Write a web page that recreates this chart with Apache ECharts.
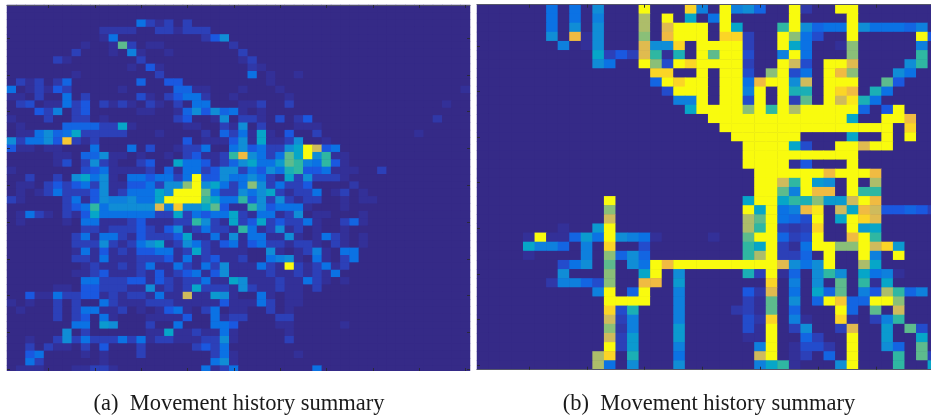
<!DOCTYPE html>
<html><head><meta charset="utf-8">
<style>html,body{margin:0;padding:0;background:#fff;overflow:hidden}#c{width:931px;height:416px;filter:blur(.45px)}</style>
<script src="https://cdn.jsdelivr.net/npm/echarts@6/dist/echarts.min.js"></script>
</head><body><div id="c"></div>
<script>
// Each row lists column,level pairs; unlisted cells are level 0. Levels read by eye on a 0-12 parula scale.
const rowsA = [
[],
[],
[14,4,15,2,16,1,17,2,19,2],
[10,1.5,11,1.5,12,1.5,13,1.5,16,2,17,2,18,1,19,2,20,2,21,2],
[10,1,11,4,21,1.5,22,3,23,5],
[8,1,11,1,12,7.5,13,2,15,1,16,1,24,1.5],
[7,2,11,1,13,4.5,14,1,17,1,25,2],
[5,2,6,1,14,2,25,1,26,2],
[13,1,15,3,16,1,26,1.5,27,1],
[7,1,16,2,26,4,28,1,31,1],
[1,2,2,1,3,2,5,1.5,6,3.5,14,3.5,17,3,18,3,28,1],
[0,4,2,1,3,2,4,1,5,3,6,2,12,1,18,3.5,19,3.5,20,1,21,1,25,1,29,1,49,1],
[0,1,1,1,3,2,6,4,8,2,14,2.5,15,1,17,2,18,3,19,4,20,4,21,1.5,24,1,30,1],
[1,2,2,2.5,4,1,5,1,6,4,7,2,8,3,10,2,11,1,12,2,13,1,15,2,16,1,18,2,20,4,21,4,25,1,26,1,27,2,30,2,47,1],
[3,3,4,2,5,4.5,7,2,8,3,14,1,15,1,18,1,19,3.5,20,5,21,3,22,5,23,3.5,24,4,25,1,27,1],
[0,1,4,2,7,2,8,2,10,1,18,2,19,3,22,1,23,5,25,2,26,2,27,1,29,2.5,31,1.5,32,3,46,1.5],
[1,1,6,3.5,7,3.5,8,3.5,9,3.5,10,2,11,2,12,6,13,1,19,1,20,1,23,2,24,1,25,5,27,2,31,1,32,1,33,1],
[1,1,2,1,3,4,4,5,5,3.5,6,4,7,6,8,2,9,2,10,2,11,2,12,2,16,1,21,1.5,23,3.5,24,2,25,4,26,1,27,6,28,1,30,3,33,2,44,1],
[0,5,1,2,2,4,3,4,4,5,5,3,6,10.5,7,2,8,1,9,2,19,3,21,1,22,1,23,1,24,3,25,5,26,1,27,6,28,1,29,1,30,2,31,5,34,1],
[0,3,1,1,2,1,4,1,5,1,9,4,13,4,15,2.5,18,1,19,2,20,2,21,4,24,4,25,5,26,3,27,4,28,2,29,2,30,5,31,6,32,12,33,9,34,3,35,4],
[5,1,6,1,8,3.5,9,3.5,10,5,11,1,12,1,14,1,17,1,19,2,20,3,21,1,22,1,23,2,24,7,25,10,26,5,27,4,28,2,29,4,30,7.5,31,6,32,12,33,5,34,7,35,1,36,1],
[5,1,6,2.5,8,2,9,5,10,2,11,1,14,2,15,3,18,6,19,4,20,4,21,3,22,1,23,2,24,3.5,25,5,26,6,27,4,28,4,29,5.5,30,7.5,31,7,32,4.5,33,4,34,7,35,3,36,1],
[0,1,8,2.5,9,3,10,4,11,1,12,1,13,1,14,1,15,2,17,3.5,18,1,19,4,20,4,21,2,22,3,23,5,24,5,25,2,26,4,27,3,28,5,29,4,30,6.5,31,7,32,3,33,3,34,4,35,1,36,1,37,1,40,2],
[2,2,5,2,7,5,8,6,9,4,10,5,11,1,13,4,14,4,15,3,16,4,17,4,18,2,19,4,20,12,21,3,22,3,23,5,24,4,25,4,26,5,27,4,28,2,29,1,30,6,31,2,32,5,33,2,34,2,35,2,36,1],
[1,1,2,1,4,2,5,3,6,2,7,3,8,4,9,2,10,5,11,1,12,1,13,3,14,3,15,4,16,2,17,5,18,5,19,8,20,12,21,5,22,6,23,4,24,2,25,4,26,8,27,5,28,2,29,4,30,2,31,2,32,3,37,1.5],
[1,1,3,1,4,2,5,4,6,2,7,2,8,2,9,3,10,5,11,1,12,2,13,4,14,4,15,4,16,6,17,5,18,12,19,12,20,12,21,7.5,22,4,23,2,24,2,25,5,26,4,27,5,28,6,29,2,30,1,31,2,32,2,33,4,35,1,36,2,38,1],
[0,2,1,1,6,2,7,4,8,1,9,3,10,5,11,4.5,12,4.5,13,5,14,4,15,4,16,6,17,12,18,12,19,12,20,12,21,7,22,6,23,4,24,4,25,7,26,3,27,5,28,2,29,5,30,2,31,1,32,2,33,2,36,1,38,1,39,1],
[6,2,7,3,8,4,9,7,10,4,11,5,12,5,13,5,14,5,15,5,16,9.5,17,4.5,18,10.5,19,5,20,5,21,6,22,7.5,23,3,24,1,25,1,26,7,27,5,28,3,29,4,30,4,31,4,32,1,36,1],
[1,1,2,4,3,2,4,1,6,2,7,1,8,3,9,6,10,4,11,4,12,4,13,4,14,4,15,4,16,2,17,2,18,6,19,2,20,4,21,3,22,4,23,4,24,6,25,2,26,1,27,4,28,4,29,1,30,2,31,5,33,1,34,1,38,1],
[1,1,6,1,8,4,9,4,10,1,11,1,12,1,13,2,14,3,15,1,16,1,17,1,18,2,19,2,20,7,21,5,22,2,23,1,24,6,25,2,26,3,27,6,28,2,29,3,30,2,31,2,32,4,33,1,36,2,37,3.5,38,1],
[8,2,9,2,10,1,11,2,12,2,13,2,14,3,15,2,16,1,17,3,18,5,19,1,20,2,21,4,22,2,23,2,24,1,25,7,26,4,27,1,28,2,29,5,30,1,31,2,33,1,36,1],
[7,2,8,4,9,1,10,4,11,4,12,2,13,1,14,3,15,2,16,2,17,2,18,3,19,6,20,1,21,1,22,4,23,1,24,5,25,1,26,4,27,4,28,1,29,1,30,5,31,1,33,1,34,4,35,2,36,1,38,1],
[7,2,8,2,9,2,10,5,11,2,12,1,13,2,14,4,15,5,16,6,17,1,18,2,19,5,20,4,21,2,22,1,23,3,24,4,25,1,26,3,27,4,28,2,29,2,30,1,31,2,32,2,33,1,35,2,36,1,38,1],
[7,1,8,4,9,1,10,3,11,1,12,2,13,1,14,3,15,3,16,4,17,4,18,1,19,2,20,6,21,2,22,1,23,1,24,1,25,1,28,5,29,1,31,1,32,2,33,4.5,34,1,36,4,37,4],
[7,2,8,2,9,1,10,4,11,1,12,1,13,1,14,2,15,2,16,2,17,3,18,1,19,4,20,1,21,2,22,3,23,1,24,1,25,2,28,4,29,4.5,30,5,31,1,33,4,34,1,36,2,37,4],
[8,1,9,2,10,1,11,1,12,2,13,1,14,2,15,4,16,1,17,1,18,4,19,2,20,1,21,4,22,2,23,5,24,1,25,1,26,1,27,4,28,2,29,1,30,12,31,2,32,1,33,2,34,4,35,1,36,2],
[7,1,8,1,9,2,10,3,11,1,12,1,13,1,14,2,15,1,16,3,17,1,18,2,19,3,20,4,21,1,22,3,23,5,24,1,25,1,26,1,27,1,28,2,29,1,30,1,31,2,32,1,33,2,34,1,35,4],
[8,4,9,4,10,2,11,2,12,2,13,3,14,3,15,1,16,3,17,2,18,1,19,2,20,2,21,4,22,1,23,1,24,6,25,5,26,1,27,1,28,1,29,2,30,1,31,1,32,4,33,2,34,1,36,1],
[5,1,6,1,8,3,9,3,10,2,11,2,12,2,13,1,14,1,15,5,16,1,17,2,18,1,19,2,20,6,21,2,22,2,23,2,24,1,25,5,26,2,27,1,28,1,29,2,30,1,31,1,33,2],
[2,3,3,1,4,1,5,4,6,2,7,2,8,3,9,3,10,1,11,2,12,1,13,2,14,2,15,1,16,4,17,1,18,1,19,9,20,1,21,1,22,5.5,23,5,24,1,27,4,28,1,30,1,31,1],
[0,1,2,1,5,2,7,2,10,4,11,2,12,1,13,1,14,1,15,2,16,2,17,2,18,1,19,1,20,1,21,1,22,1,23,3,24,1,25,1,26,1,27,4,28,2,30,1,31,1],
[1,1,5,2,7,2,8,4,9,4,10,1,11,1,12,2,14,1,16,1,17,3,18,4,19,1,21,2,22,4,24,1,25,1,28,2,30,1],
[5,2,7,2,8,3,10,4,11,1,15,1,16,1,17,1,18,1,19,3,22,4,23,1,24,2,25,2,29,2,30,2],
[7,4,8,4,10,5.5,11,5,15,2,18,4,22,4,23,4,24,3,29,1,30,1,36,1],
[6,5,8,2,15,1,16,1,17,6,18,1,19,1,20,2,21,1,22,1,23,4,24,1,30,1],
[2,1,5,2,6,5,7,2,8,4,9,2,10,2,11,2,12,4,13,2,14,4,15,1,16,2,17,2,18,1,19,1,20,1,21,2,22,2,23,5,24,1,30,2],
[2,2,4,2,5,1,6,1,8,2,10,3,14,2,20,2,21,3,22,2,23,4],
[2,3,3,4,8,1,10,1,14,2,22,2,23,4,24,1,31,1],
[2,4,3,2,10,1,22,4,23,5,24,1],
[1,1,2,1,3,1,7,1,8,1,9,2,10,2,11,1,21,4,22,1,23,2,24,4,33,4]
];
const rowsB = [
[6,4,8,4,10,5,14,12,18,11,19,4.5,21,12,22,4.5,23,5,24,3.5,27,12,28,1.5,31,12,32,12],
[6,4,8,4,10,4.5,14,8.5,16,12,18,6,20,4,21,12,27,12,32,12],
[6,4,8,5,10,5,14,8.5,16,9.5,17,12,18,12,19,12,21,12,22,6,26,7,27,12,28,5,29,3.5,30,4,31,4,32,12,33,5,34,4,35,4,36,4,37,3.5,38,4.5],
[6,5,8,10,9,1,10,5,14,8,16,10,17,12,18,12,19,12,21,11,22,11,23,2,26,12,27,8,28,4,29,2.5,32,12,38,12,39,3],
[7,4.5,9,1,10,5,14,9.5,15,5,16,5,17,11,19,12,20,12,21,12,22,12,23,2,26,12,27,6,28,4,31,1,32,8,38,4.5],
[10,6,11,2,12,3,13,2,14,9.5,15,7,16,1,17,6.5,19,12,20,7.5,21,12,22,12,23,2.5,26,4.5,27,12,28,4,32,8,38,7],
[10,5,11,4,14,12,15,8,16,2.5,17,12,18,11,19,12,20,12,21,12,22,12,23,2,26,12,27,9,28,2.5,30,12,31,12,32,9.5,37,5,38,7],
[15,11,16,11,19,12,21,12,22,12,23,2.5,25,8,26,12,27,2.5,28,4,30,12,31,10,32,8,36,5,37,4],
[15,3.5,16,12,17,11,18,12,19,12,21,12,22,12,23,4,24,10,25,12,26,12,27,5,28,9,30,12,31,12,32,12,35,7.5,36,3],
[16,2.5,17,12,18,12,19,12,21,12,22,12,23,4.5,24,12,26,12,27,6.5,28,6.5,30,12,31,11,32,10,34,6.5,35,4],
[17,4.5,18,4.5,19,12,21,12,22,12,23,2.5,24,12,26,12,27,2,28,7.5,30,12,31,9,32,11.5,33,6.5,34,4],
[18,6,19,12,20,12,21,12,22,12,23,8,24,12,25,7,26,12,27,8.5,28,12,29,12,30,12,31,12,32,12,33,3.5,35,3,36,12],
[20,12,21,12,22,12,23,12,24,12,25,12,26,12,27,12,28,12,29,12,30,12,31,12,32,6,35,12,36,12,37,10],
[21,12,22,12,23,12,24,12,25,12,26,12,27,12,28,12,29,12,30,12,31,12,32,12,33,12,34,12,35,12,37,11],
[22,12,23,12,24,12,25,12,26,12,27,12,32,6,35,12,37,12],
[23,12,24,12,25,12,26,12,27,6,28,2.5,31,12,32,12,33,9.5,34,12,35,12],
[23,12,24,12,25,12,26,12,27,12,28,12,29,12,30,12,31,12,32,12],
[23,12,24,12,25,12,26,12,27,1,28,3,32,12],
[24,12,25,12,26,12,27,12,28,12,29,12,30,10,31,12,32,12,33,12,34,10],
[24,12,25,12,26,9,27,7,28,12,29,5.5,30,5,32,12,34,8.5],
[24,12,25,12,26,7.5,27,4.5,28,12,29,10,30,10,32,12,33,7,34,7],
[11,12,23,6,24,12,25,12,26,6,27,7,28,6.5,29,8,30,5.5,31,5.5,32,9,33,12,34,10],
[11,8,23,12,24,6,25,12,26,4,27,4.5,28,10,29,11.5,31,9,32,6,33,10,34,9,35,3,36,3,37,3.5,38,3,39,2],
[11,9,23,8.5,24,7.5,25,12,26,4,27,3.5,28,2.5,29,12,31,6,32,12,33,11,34,9.5],
[7,1,10,5.5,11,12,23,8.5,24,7,25,12,26,2,27,1.5,28,2,29,11,32,12,33,5.5,34,6],
[4,1,5,12,6,1,7,1,8,3.5,9,5.5,10,4,11,12,12,5,13,4.5,14,4,15,1,20,1,23,7.5,24,12,25,12,26,3.5,27,2,28,2.5,29,12,32,10,33,12,34,7],
[4,6,5,4.5,6,4.5,7,3.5,9,4.5,11,11,14,2.5,23,7,24,6,25,12,26,2,27,1,28,4,29,12,30,12,31,8,32,8,33,12,34,9,35,11,36,5.5],
[4,1,9,4.5,11,8,12,3.5,13,5,14,3.5,23,7,24,8.5,25,12,26,2,27,2,28,3.5,30,12,33,12,34,4.5,36,12],
[7,2.5,8,4,9,5,11,7.5,13,5,14,4,15,12,16,10,17,12,18,12,19,12,20,12,21,12,22,12,23,12,24,12,25,12,26,9.5,27,5,28,4,29,5,30,12,33,8.5,34,6],
[7,5,11,8,14,6,15,12,17,5,23,6.5,24,2,25,12,26,1,27,3.5,29,5,30,7,31,5,33,6,34,4,35,4.5,36,1],
[6,1.5,7,4.5,8,4.5,9,3.5,10,2.5,11,8,14,10,15,10,17,5.5,25,11,27,4.5,29,5,31,7.5,33,7,34,1,35,6],
[10,4.5,11,12,13,3.5,14,12,17,4.5,23,3,24,1.5,25,9.5,27,4,29,6,30,3.5,31,7.5,33,4.5,34,3,35,8.5,36,7,37,3.5,38,4.5],
[11,12,12,12,13,12,14,12,17,4.5,23,2,24,1,25,7.5,27,5,29,3.5,30,12,31,10.5,32,3.5,33,3.5,34,12,35,12,36,8],
[11,11,12,2.5,13,6.5,17,4.5,22,1.5,23,2,24,1,25,7.5,27,3.5,31,12,32,3.5,34,7.5,36,9],
[11,9,12,2,13,4.5,17,4.5,23,2.5,24,1.5,25,11,27,4.5,28,1,31,11,32,1,34,2,35,4.5,36,7],
[11,8,12,1.5,13,4.5,17,5.5,23,2.5,24,1,25,12,27,2,28,5,31,2,32,9.5,35,5.5,37,7.5,38,2.5],
[11,9,12,2,13,5.5,17,5.5,23,1,24,1,25,12,28,3.5,29,2,32,12,35,5.5,38,6],
[11,12,12,2,13,5.5,17,4.5,24,4.5,25,12,27,1,28,2.5,29,2.5,30,1.5,32,12,35,5,36,3.5,38,7.5],
[10,8.5,11,11,13,6.5,17,4,24,9,25,12,27,1,28,2,30,3.5,32,12,36,7,38,7.5,39,2],
[10,8.5,11,4,13,5,17,5,24,4.5,25,6,26,7,27,1,31,5,32,12,36,7,39,6]
];
const captions = ['(a)  Movement history summary', '(b)  Movement history summary'];
const parula = ['#352a87','#333098','#2c40b8','#1a58e0','#0b72e4','#108dd6','#06a6c8','#2fb7a2','#8abf78','#cfbb5c','#f0bb42','#fbd526','#f9fb0e'];

function cells(rows, n) {
  const out = [];
  rows.forEach((pairs, r) => {
    const line = new Array(n).fill(0);
    for (let i = 0; i < pairs.length; i += 2) line[pairs[i]] = pairs[i + 1];
    line.forEach((v, c) => out.push([c, r, v]));
  });
  return out;
}
const names = n => Array.from({length: n}, (_, i) => String(i + 1));
const every5 = i => (i + 1) % 5 === 0;
function axis(g, pos, n, line, inv, offset) {
  return {type: 'category', gridIndex: g, position: pos, data: names(n), inverse: !!inv, z: 6, silent: true, offset: offset || 0,
    axisLabel: {show: false}, splitLine: {show: false}, splitArea: {show: false},
    axisLine: {show: line, onZero: false, lineStyle: {color: '#55566a', width: 1}},
    axisTick: {show: true, inside: true, length: 3, alignWithLabel: true, interval: every5, lineStyle: {color: '#2a2a3a', width: 1}}};
}
const chart = echarts.init(document.getElementById('c'), null, {renderer: 'canvas'});
chart.setOption({
  animation: false,
  backgroundColor: '#fff',
  grid: [
    {left: 7, top: 5, width: 463, height: 368, outerBoundsMode: 'none', show: true, backgroundColor: parula[0], borderWidth: 0},
    {left: 477, top: 4.7, width: 462.4, height: 365, outerBoundsMode: 'none', show: true, backgroundColor: parula[0], borderWidth: 0}
  ],
  xAxis: [axis(0, 'bottom', 50, false, false, -2), axis(0, 'top', 50, true), axis(1, 'bottom', 40, true), axis(1, 'top', 40, true)],
  yAxis: [axis(0, 'left', 50, false, true), axis(0, 'right', 50, false, true), axis(1, 'left', 40, false, true)],
  visualMap: {show: false, type: 'continuous', min: 0, max: 12, dimension: 2, seriesIndex: [0, 1], inRange: {color: parula}},
  series: [
    {type: 'heatmap', xAxisIndex: 0, yAxisIndex: 0, data: cells(rowsA, 50), silent: true, progressive: 0, itemStyle: {borderWidth: 0}},
    {type: 'heatmap', xAxisIndex: 2, yAxisIndex: 2, data: cells(rowsB, 40), silent: true, progressive: 0, itemStyle: {borderWidth: 0}}
  ],
  graphic: [{type: 'rect', z: 50, shape: {x: 0, y: 371, width: 476, height: 4}, style: {fill: '#fff'}}],
  title: [
    {text: captions[0], left: 239, top: 393, textAlign: 'center', padding: 0, textStyle: {fontFamily: 'Liberation Serif', fontSize: 22.5, fontWeight: 'normal', color: '#1a1a1a'}},
    {text: captions[1], left: 709, top: 393, textAlign: 'center', padding: 0, textStyle: {fontFamily: 'Liberation Serif', fontSize: 22.5, fontWeight: 'normal', color: '#1a1a1a'}}
  ]
});
</script></body></html>
